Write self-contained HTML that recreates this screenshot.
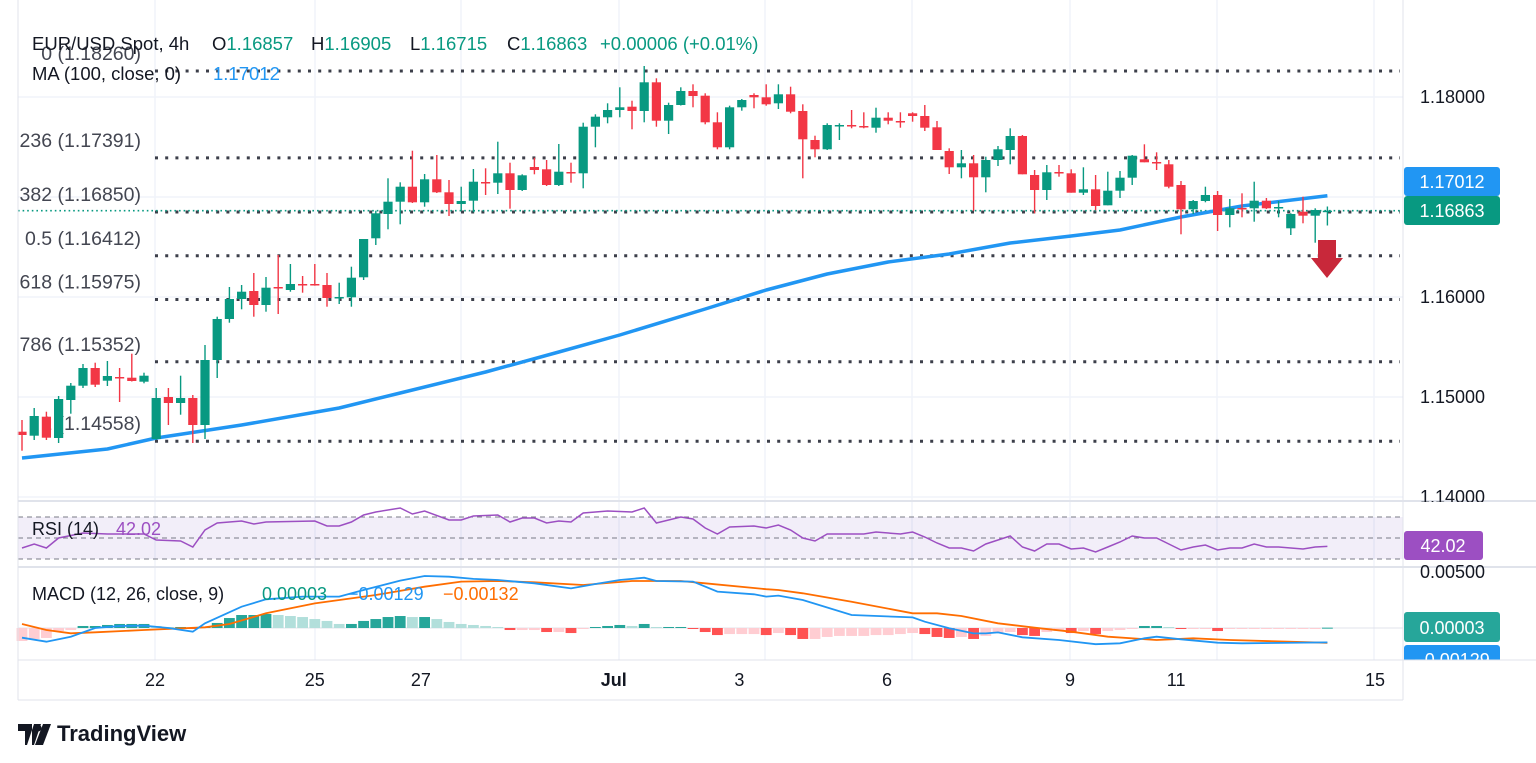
<!DOCTYPE html>
<html><head><meta charset="utf-8"><style>
html,body{margin:0;padding:0;background:#fff;}
svg{display:block;font-family:"Liberation Sans",sans-serif;}
</style></head><body>
<svg id="chart" width="1536" height="763" viewBox="0 0 1536 763" xmlns="http://www.w3.org/2000/svg">
<defs>
<clipPath id="paneClip"><rect x="18" y="0" width="1385" height="502"/></clipPath>
<clipPath id="axisClip"><rect x="1403" y="0" width="133" height="502"/></clipPath>
<clipPath id="macdClip"><rect x="0" y="568" width="1536" height="92"/></clipPath>
</defs>
<rect width="1536" height="763" fill="#fff"/>
<g id="grid"></g>
<g id="fib" clip-path="url(#paneClip)"></g>
<g id="ma" clip-path="url(#paneClip)"></g>
<g id="candles"></g>
<g id="rsi"></g>
<g id="macd" clip-path="url(#macdClip)"></g>
<g id="axes"></g>
<g font-size="18.5">
<text y="50" fill="#131722"><tspan x="32">EUR/USD Spot, 4h</tspan><tspan x="212">O</tspan><tspan fill="#089981">1.16857</tspan><tspan x="311">H</tspan><tspan fill="#089981">1.16905</tspan><tspan x="410">L</tspan><tspan fill="#089981">1.16715</tspan><tspan x="507">C</tspan><tspan fill="#089981">1.16863</tspan><tspan x="600" fill="#089981">+0.00006 (+0.01%)</tspan></text>
<text y="80" fill="#131722"><tspan x="32">MA (100, close, 0)</tspan><tspan x="213" fill="#2196f3">1.17012</tspan></text>
</g>
<g>
<polygon points="1318,240 1336,240 1336,258 1343,258 1327,278 1311,258 1318,258" fill="#c8283a"/>
</g>
<g>
<path d="M18 724h14v21h-7v-14h-7z M34 724 l-7 21 h7 l7 -21z" fill="#131722"/>
<circle cx="38" cy="728" r="3.5" fill="#131722"/>
<path d="M43 724h8l-8 21h-8z" fill="#131722"/>
<text x="57" y="741" font-size="22" fill="#131722" font-weight="bold">TradingView</text>
</g>
</svg>
<script>
// ---------- data ----------
const opens=[1.14653,1.14613,1.14803,1.14590,1.14970,1.15113,1.15290,1.15163,1.15200,1.15193,1.15153,1.14580,1.15000,1.14940,1.14990,1.14720,1.15370,1.15780,1.15980,1.16060,1.15920,1.16100,1.16070,1.16130,1.16130,1.16120,1.15990,1.15997,1.16197,1.16587,1.16830,1.16953,1.17103,1.16947,1.17177,1.17047,1.16930,1.16963,1.17150,1.17143,1.17237,1.17070,1.17300,1.17277,1.17120,1.17250,1.17237,1.17703,1.17797,1.17870,1.17903,1.17860,1.18147,1.17763,1.17920,1.18060,1.18013,1.17747,1.17497,1.17897,1.18020,1.17997,1.17937,1.18027,1.17860,1.17570,1.17477,1.17710,1.17720,1.17710,1.17693,1.17793,1.17760,1.17837,1.17810,1.17697,1.17460,1.17297,1.17337,1.17197,1.17370,1.17470,1.17610,1.17220,1.17070,1.17250,1.17237,1.17043,1.17077,1.16917,1.17063,1.17193,1.17377,1.17350,1.17327,1.17120,1.16877,1.16960,1.17020,1.16820,1.16890,1.16887,1.16963,1.16893,1.16687,1.16853,1.16813,1.16857];
const highs=[1.14770,1.14890,1.14853,1.15010,1.15140,1.15330,1.15343,1.15360,1.15290,1.15433,1.15243,1.15090,1.15090,1.15213,1.15020,1.15520,1.15803,1.16100,1.16120,1.16240,1.16200,1.16420,1.16330,1.16210,1.16330,1.16240,1.16143,1.16303,1.16270,1.16863,1.17187,1.17147,1.17463,1.17230,1.17420,1.17170,1.17103,1.17280,1.17287,1.17553,1.17343,1.17227,1.17393,1.17370,1.17530,1.17343,1.17743,1.17827,1.17937,1.18097,1.17963,1.18310,1.18187,1.17943,1.18097,1.18127,1.18037,1.17847,1.17913,1.17980,1.18037,1.18127,1.18127,1.18103,1.17927,1.17613,1.17737,1.17737,1.17870,1.17847,1.17893,1.17847,1.17847,1.17847,1.17920,1.17760,1.17487,1.17470,1.17420,1.17403,1.17510,1.17687,1.17620,1.17270,1.17320,1.17320,1.17277,1.17297,1.17220,1.17253,1.17260,1.17420,1.17527,1.17447,1.17370,1.17160,1.16970,1.17103,1.17060,1.16980,1.17037,1.17153,1.16990,1.16960,1.16837,1.17003,1.16887,1.16905];
const lows=[1.14463,1.14570,1.14570,1.14540,1.14833,1.15090,1.15100,1.15110,1.14950,1.15155,1.15137,1.14570,1.14720,1.14823,1.14540,1.14580,1.15190,1.15743,1.15877,1.15803,1.15853,1.15830,1.16053,1.16043,1.16113,1.15903,1.15930,1.15903,1.16170,1.16520,1.16677,1.16727,1.16940,1.16903,1.17040,1.16810,1.16863,1.16847,1.17020,1.17030,1.16883,1.17060,1.17227,1.17110,1.17110,1.17143,1.17087,1.17497,1.17737,1.17797,1.17677,1.17747,1.17703,1.17630,1.17915,1.17897,1.17727,1.17477,1.17477,1.17863,1.17887,1.17913,1.17880,1.17837,1.17187,1.17397,1.17470,1.17570,1.17687,1.17687,1.17643,1.17727,1.17693,1.17753,1.17660,1.17470,1.17230,1.17187,1.16863,1.17047,1.17310,1.17327,1.17227,1.16837,1.16970,1.17203,1.17043,1.17020,1.16867,1.16917,1.16990,1.17120,1.17347,1.17270,1.17087,1.16627,1.16830,1.16947,1.16660,1.16697,1.16797,1.16753,1.16880,1.16797,1.16620,1.16737,1.16543,1.16715];
const closes=[1.14620,1.14810,1.14593,1.14980,1.15113,1.15290,1.15123,1.15210,1.15190,1.15160,1.15213,1.14990,1.14940,1.14990,1.14720,1.15370,1.15780,1.15980,1.16053,1.15920,1.16093,1.16090,1.16130,1.16120,1.16120,1.15990,1.16000,1.16193,1.16580,1.16837,1.16953,1.17103,1.16947,1.17177,1.17047,1.16930,1.16960,1.17153,1.17145,1.17237,1.17070,1.17217,1.17270,1.17120,1.17253,1.17240,1.17703,1.17803,1.17870,1.17897,1.17860,1.18147,1.17763,1.17920,1.18060,1.18010,1.17747,1.17497,1.17897,1.17970,1.17997,1.17927,1.18027,1.17853,1.17577,1.17477,1.17720,1.17720,1.17710,1.17703,1.17793,1.17763,1.17753,1.17810,1.17693,1.17470,1.17297,1.17337,1.17197,1.17370,1.17477,1.17610,1.17227,1.17070,1.17247,1.17240,1.17043,1.17077,1.16910,1.17063,1.17193,1.17413,1.17347,1.17343,1.17103,1.16877,1.16960,1.17020,1.16820,1.16887,1.16880,1.16963,1.16887,1.16900,1.16830,1.16813,1.16870,1.16863];
const maIdx=[0,7,11,18,26,31,38,44,49,56,61,66,71,76,81,86,90,95,100,107];
const maVals=[1.14390,1.14480,1.14590,1.14720,1.14890,1.15040,1.15250,1.15450,1.15620,1.15880,1.16070,1.16230,1.16350,1.16430,1.16540,1.16610,1.16670,1.16800,1.16910,1.17012];
const fibRatios=["0","0.236","0.382","0.5","0.618","0.786","1"];
const fibLevels=[1.18260,1.17391,1.16850,1.16412,1.15975,1.15352,1.14558];
const priceTicks=[1.18,1.17,1.16,1.15,1.14];
const dateLabels=["22","25","27","Jul","3","6","9","11","15"];
const dateIdx=[10.9,24,32.7,48.5,58.8,70.9,85.9,94.6,110.9];
const rsiIdx=[0,1,2,3,5,7,10,11,13,14,15,16,18,19,20,24,25,26,27,28,29,31,32,33,35,36,37,39,40,41,42,43,44,45,46,48,50,51,52,54,55,56,57,58,60,61,62,63,64,65,66,69,70,72,73,74,75,76,77,78,79,80,81,82,83,84,85,86,87,88,89,90,91,92,93,95,96,97,98,99,100,101,102,103,104,105,106,107];
const rsiVals=[40.5,44.3,40.5,50,54.8,53.8,53.8,48.1,47.1,41.4,57.6,64.3,66.2,63.3,65.2,66.2,61.4,61.4,65.2,71.9,74.8,78.6,72.9,75.7,67.1,67.1,71,71.9,65.2,69,69,64.3,66.2,65.2,73.8,75.7,74.8,78.6,64.3,70,68.1,59.5,53.8,60.5,61.4,59.5,62.4,57.6,50,47.1,53.8,53.8,55.7,53.8,55.7,51,45.2,40.5,40.5,37.6,44.3,48.1,51.9,41.4,37.6,44.3,44.3,39.5,40.5,36.7,41.4,46.2,51.9,50,50,38.6,41.4,43.3,38.6,40.5,40.5,44.3,41.4,41.4,40.5,39.5,41.4,42.02];
const macdIdx=[0,2,4,6,8,10,12,14,15,18,20,23,26,28,31,33,35,37,39,42,45,47,49,51,52,55,57,60,61,62,64,68,73,74,76,78,79,80,82,85,88,90,92,93,95,98,100,107];
const macdVals=[-0.00087,-0.00122,-0.00078,0.00000,0.00018,0.00021,0.00000,-0.00033,0.00042,0.00190,0.00256,0.00280,0.00280,0.00339,0.00423,0.00464,0.00458,0.00438,0.00429,0.00399,0.00354,0.00393,0.00429,0.00449,0.00420,0.00414,0.00325,0.00301,0.00280,0.00289,0.00250,0.00116,0.00095,0.00056,-0.00003,-0.00048,-0.00048,-0.00039,-0.00083,-0.00107,-0.00145,-0.00137,-0.00092,-0.00078,-0.00101,-0.00131,-0.00137,-0.00129];
const sigIdx=[0,2,4,6,10,15,17,20,24,29,33,36,39,42,46,50,54,56,61,62,64,68,73,75,77,80,83,86,89,93,96,99,107];
const sigVals=[0.00036,-0.00018,-0.00047,-0.00038,-0.00018,0.00006,0.00036,0.00131,0.00220,0.00295,0.00369,0.00414,0.00420,0.00408,0.00384,0.00420,0.00420,0.00399,0.00346,0.00339,0.00310,0.00235,0.00131,0.00131,0.00107,0.00042,0.00003,-0.00033,-0.00078,-0.00107,-0.00092,-0.00107,-0.00132];
const histVals=[-116,-98,-89,-27,-18,18,18,27,36,36,36,18,9,9,-9,9,45,89,116,116,125,116,107,98,80,63,36,36,63,80,98,107,98,98,80,54,36,27,18,9,-18,-18,-18,-36,-36,-45,-9,9,18,27,18,36,9,9,9,-9,-36,-63,-54,-54,-54,-63,-45,-63,-98,-98,-80,-71,-71,-71,-63,-63,-54,-45,-54,-80,-89,-80,-98,-71,-45,-36,-63,-71,-36,-27,-45,-27,-54,-27,-18,-9,18,18,9,-9,-9,-9,-27,-9,-9,-9,-9,-9,-9,-9,-9,3];

// ---------- scales ----------
const NS="http://www.w3.org/2000/svg";
const xOf=i=>22+12.2*i;
const pY=p=>97+(1.18-p)*10000;
const rY=r=>538-(r-50)*1.05;
const mY=v=>628-v*11200;
function mk(tag,attrs,parent,txt){const e=document.createElementNS(NS,tag);for(const k in attrs)e.setAttribute(k,attrs[k]);if(txt!==undefined)e.textContent=txt;parent.appendChild(e);return e;}
function pathFrom(idx,vals,fy){return idx.map((ix,k)=>(k?'L':'M')+xOf(ix).toFixed(1)+' '+fy(vals[k]).toFixed(1)).join(' ');}

// grid
const grid=document.getElementById('grid');
[155,315,461,619,765,912,1070,1217,1374].forEach(x=>{mk('line',{x1:x,x2:x,y1:0,y2:660,stroke:'#f0f3fa','stroke-width':1.5},grid);});
priceTicks.forEach(p=>{mk('line',{x1:18,x2:1403,y1:pY(p),y2:pY(p),stroke:'#f0f3fa','stroke-width':1.5},grid);});

// fib
const fib=document.getElementById('fib');
fibLevels.forEach((lv,k)=>{
  const y=pY(lv);
  const ln=mk('line',{x1:155,x2:1400,y1:y,y2:y,stroke:'#3c3f4a','stroke-width':3,'stroke-dasharray':'3 7.2'},fib);
  
  
  const t=mk('text',{x:141,y:y-11,'text-anchor':'end','font-size':19.5,fill:'#434651'},fib,fibRatios[k]+' ('+lv.toFixed(5)+')');
  
  
});
// current price line
const cp=mk('line',{x1:18,x2:1403,y1:pY(closes[closes.length-1]),y2:pY(closes[closes.length-1]),stroke:'#089981','stroke-width':1.6,'stroke-dasharray':'1.6 3'},fib);



// MA
const ma=document.getElementById('ma');
const mp=mk('path',{d:pathFrom(maIdx,maVals,pY),fill:'none',stroke:'#2196f3','stroke-width':3.5,'stroke-linejoin':'round'},ma);



// candles
const cg=document.getElementById('candles');
opens.forEach((o,i)=>{
  const c=closes[i],up=c>=o,col=up?'#089981':'#f23645',x=xOf(i);
  const g=mk('g',{},cg);
  
  
  mk('line',{x1:x,x2:x,y1:pY(highs[i]),y2:pY(lows[i]),stroke:col,'stroke-width':1.4},g);
  const top=pY(Math.max(o,c)),bot=pY(Math.min(o,c));
  mk('rect',{x:x-4.6,y:top,width:9.2,height:Math.max(1.5,bot-top),fill:col},g);
});

// RSI
const rg=document.getElementById('rsi');
mk('rect',{x:18,y:rY(70),width:1385,height:rY(30)-rY(70),fill:'#7e57c2','fill-opacity':0.1},rg);
[70,50,30].forEach(v=>{mk('line',{x1:18,x2:1403,y1:rY(v),y2:rY(v),stroke:'#787b86','stroke-width':1,'stroke-dasharray':'5 4'},rg);});
const rp=mk('path',{d:pathFrom(rsiIdx,rsiVals,rY),fill:'none',stroke:'#9c4fc2','stroke-width':1.5},rg);


mk('text',{x:32,y:535,'font-size':18,fill:'#131722'},rg,'RSI (14)');
mk('text',{x:116,y:535,'font-size':18,fill:'#9c4fc2'},rg,String(rsiVals[rsiVals.length-1].toFixed(2)));

// MACD
const mg=document.getElementById('macd');
mk('line',{x1:18,x2:1403,y1:mY(0),y2:mY(0),stroke:'#e0e3eb','stroke-width':1},mg);
histVals.forEach((hv,i)=>{
  const v=hv*1e-5,prev=i?histVals[i-1]:hv;
  let col;
  if(hv>=0) col=hv>=prev?'#26a69a':'#b2dfdb'; else col=hv<prev?'#ff5252':'#ffcdd2';
  const y0=mY(0),y1=mY(v);
  const r=mk('rect',{x:xOf(i)-5.4,y:Math.min(y0,y1),width:10.8,height:Math.max(1,Math.abs(y1-y0)),fill:col},mg);
  
  
});
const sp=mk('path',{d:pathFrom(sigIdx,sigVals,mY),fill:'none',stroke:'#ff6d00','stroke-width':1.8},mg);


const mlp=mk('path',{d:pathFrom(macdIdx,macdVals,mY),fill:'none',stroke:'#2196f3','stroke-width':1.8},mg);


const ml=mk('text',{x:32,y:600,'font-size':18,fill:'#131722'},mg,'MACD (12, 26, close, 9)');


mk('text',{x:262,y:600,'font-size':18,fill:'#089981'},mg,'0.00003');
mk('text',{x:348,y:600,'font-size':18,fill:'#2196f3'},mg,'\u22120.00129');
mk('text',{x:443,y:600,'font-size':18,fill:'#ff6d00'},mg,'\u22120.00132');
// macd axis boxes
mk('rect',{x:1404,y:612,width:96,height:30,rx:3,fill:'#26a69a'},mg);
mk('text',{x:1452,y:634,'font-size':18,fill:'#fff','text-anchor':'middle'},mg,'0.00003');
mk('rect',{x:1404,y:645,width:96,height:30,rx:3,fill:'#2196f3'},mg);
mk('text',{x:1452,y:666,'font-size':18,fill:'#fff','text-anchor':'middle'},mg,'\u22120.00129');

// axes
const ax=document.getElementById('axes');
mk('line',{x1:1403,x2:1403,y1:0,y2:700,stroke:'#e0e3eb','stroke-width':1},ax);
mk('line',{x1:18,x2:18,y1:0,y2:700,stroke:'#e0e3eb','stroke-width':1},ax);
mk('line',{x1:18,x2:1536,y1:501,y2:501,stroke:'#e0e3eb','stroke-width':2},ax);
mk('line',{x1:18,x2:1536,y1:567,y2:567,stroke:'#e0e3eb','stroke-width':2},ax);
mk('line',{x1:18,x2:1536,y1:660,y2:660,stroke:'#e0e3eb','stroke-width':1},ax);
mk('line',{x1:18,x2:1403,y1:700,y2:700,stroke:'#e0e3eb','stroke-width':1},ax);
const pa=mk('g',{'clip-path':'url(#axisClip)'},ax);
priceTicks.forEach(p=>{
  const t=mk('text',{x:1420,y:pY(p)+6,'font-size':18,fill:'#131722'},pa,p.toFixed(5));
  
  
});
mk('rect',{x:1404,y:167,width:96,height:29,rx:3,fill:'#2196f3'},ax);
mk('text',{x:1452,y:188,'font-size':18,fill:'#fff','text-anchor':'middle'},ax,'1.17012');
mk('rect',{x:1404,y:196,width:96,height:29,rx:3,fill:'#089981'},ax);
mk('text',{x:1452,y:217,'font-size':18,fill:'#fff','text-anchor':'middle'},ax,'1.16863');
mk('rect',{x:1404,y:531,width:79,height:29,rx:3,fill:'#9c4fc2'},ax);
mk('text',{x:1443,y:552,'font-size':18,fill:'#fff','text-anchor':'middle'},ax,'42.02');
mk('text',{x:1420,y:578,'font-size':18,fill:'#131722'},ax,'0.00500');
dateLabels.forEach((d,k)=>{
  const t=mk('text',{x:xOf(dateIdx[k]),y:686,'font-size':18,fill:'#131722','text-anchor':'middle','font-weight':d==='Jul'?'bold':'normal'},ax,d);
  
  
});
</script>
</body></html>
